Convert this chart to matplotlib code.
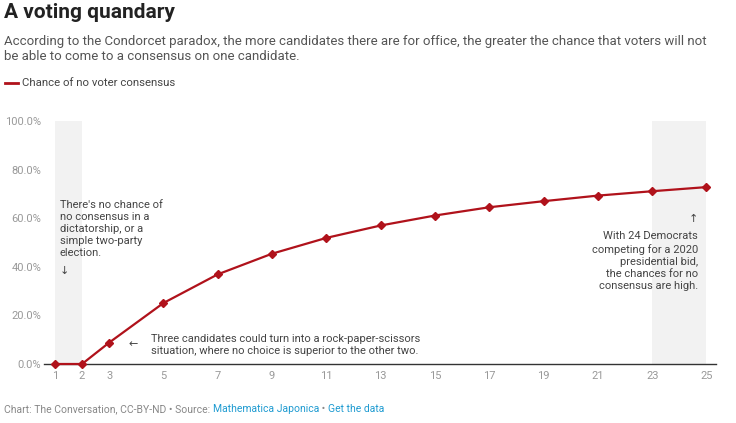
import matplotlib
matplotlib.use("Agg")
import matplotlib.pyplot as plt

candidates = [1, 2, 3, 5, 7, 9, 11, 13, 15, 17, 19, 21, 23, 25]
chance = [0, 0, 8.8, 25.1, 36.9, 45.4, 51.9, 57.0, 61.1, 64.5, 67.0, 69.3, 71.1, 72.8]
yticks = [0, 20, 40, 60, 80, 100]
ytick_labels = ["0.0%", "20.0%", "40.0%", "60.0%", "80.0%", "100.0%"]
shade_spans = [(1, 2), (23, 25)]

W, H = 736, 423
fig = plt.figure(figsize=(W / 100, H / 100), dpi=100)
plt.rcParams['font.family'] = ['Roboto', 'DejaVu Sans']

def fx(px):
    return px / W

def fy(py):
    return 1 - py / H

ax = fig.add_axes([fx(44), fy(364), fx(716) - fx(44), fy(121) - fy(364)])
ax.set_xlim(0.6, 25.35)
ax.set_ylim(0, 100)
red = "#b0121b"
for a, b in shade_spans:
    ax.axvspan(a, b, color="#f2f2f2", zorder=0, lw=0)
ax.plot(candidates, chance, color=red, lw=1.6, marker="D", ms=4.5, clip_on=False, zorder=3)
for s in ["top", "right", "left"]:
    ax.spines[s].set_visible(False)
ax.spines["bottom"].set_color("#333333")
ax.spines["bottom"].set_linewidth(1)
ax.set_yticks(yticks)
ax.set_yticklabels(ytick_labels)
ax.set_xticks(candidates)
ax.tick_params(axis="y", length=0, pad=2, labelsize=8, labelcolor="#999999")
ax.tick_params(axis="x", length=0, pad=5, labelsize=8, labelcolor="#999999")

tc = "#444444"
fig.text(fx(4), fy(12), "A voting quandary", fontsize=15, fontweight="bold",
         color="#222222", va="center", family=['Liberation Sans Narrow', 'Roboto'])
fig.text(fx(4), fy(42), "According to the Condorcet paradox, the more candidates there are for office, the greater the chance that voters will not",
         fontsize=9.5, color="#555555", va="center")
fig.text(fx(4), fy(57), "be able to come to a consensus on one candidate.",
         fontsize=9.5, color="#555555", va="center")
fig.lines.append(plt.Line2D([fx(5), fx(18)], [fy(83), fy(83)], color=red, lw=2, transform=fig.transFigure))
fig.text(fx(22), fy(83), "Chance of no voter consensus", fontsize=8.2, color="#444444", va="center")

fig.text(fx(60), fy(229), "There's no chance of\nno consensus in a\ndictatorship, or a\nsimple two-party\nelection.",
         fontsize=8, color=tc, va="center", linespacing=1.25)
fig.text(fx(60), fy(271), "\u2193", fontsize=8, color=tc, va="center")
fig.text(fx(698), fy(261), "With 24 Democrats\ncompeting for a 2020\npresidential bid,\nthe chances for no\nconsensus are high.",
         fontsize=8, color=tc, va="center", ha="right", linespacing=1.25)
fig.text(fx(693), fy(219), "\u2191", fontsize=8, color=tc, va="center", ha="center")
fig.text(fx(133), fy(344), "\u2190", fontsize=8, color=tc, va="center", ha="center")
fig.text(fx(151), fy(345), "Three candidates could turn into a rock-paper-scissors\nsituation, where no choice is superior to the other two.",
         fontsize=8, color=tc, va="center", linespacing=1.25)

# footer
parts = [("Chart: The Conversation, CC-BY-ND \u2022 Source: ", "#888888"),
         ("Mathematica Japonica", "#1f9bd1"),
         (" \u2022 ", "#888888"),
         ("Get the data", "#1f9bd1")]
renderer = fig.canvas.get_renderer()
x = 4
for s, c in parts:
    t = fig.text(fx(x), fy(409), s, fontsize=7.45, color=c, va="center")
    bb = t.get_window_extent(renderer)
    x += bb.width

fig.savefig("out.png", dpi=100)
